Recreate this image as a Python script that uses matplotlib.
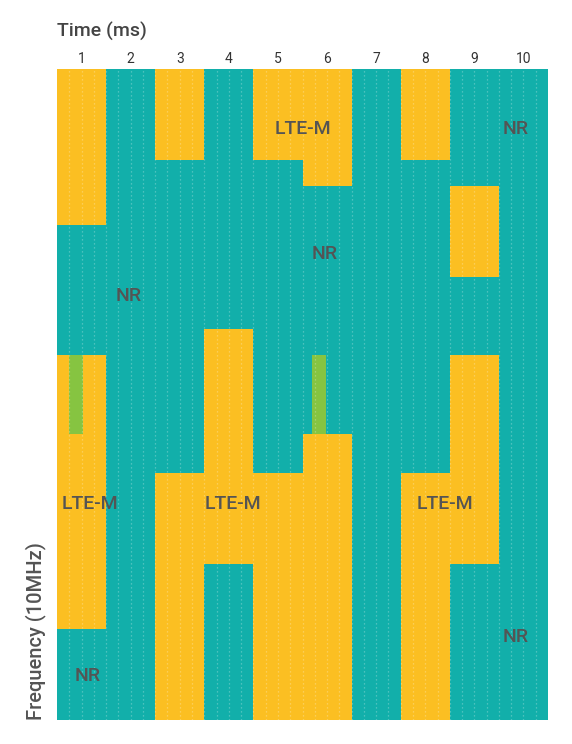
import matplotlib
matplotlib.use("Agg")
import matplotlib.pyplot as plt

plt.rcParams['font.family'] = ['Roboto', 'DejaVu Sans']

# ---- data ----
time_ms = [1, 2, 3, 4, 5, 6, 7, 8, 9, 10]
freq_max = 50  # frequency units (bottom = 0)

# LTE-M occupied blocks per time slot: (bottom, top) in frequency units
lte_m_blocks = [
    [(38, 50), (7, 28)],     # 1
    [],                      # 2
    [(43, 50), (0, 19)],     # 3
    [(12, 30)],              # 4
    [(43, 50), (0, 19)],     # 5
    [(41, 50), (0, 22)],     # 6
    [],                      # 7
    [(43, 50), (0, 19)],     # 8
    [(34, 41), (12, 28)],    # 9
    [],                      # 10
]

# green (control) blocks: slot, x-offset start, x-offset end within slot, bottom, top
green_slots = [1, 6]
green_x0 = [0.25, 0.20]
green_x1 = [0.52, 0.48]
green_bottom = [22, 22]
green_top = [28, 28]

# region labels: text, x (slot units, 0..10), y (freq units)
label_texts = ["LTE-M", "NR", "NR", "NR", "LTE-M", "LTE-M", "LTE-M", "NR", "NR"]
label_x = [5.0, 9.35, 5.46, 1.45, 0.67, 3.58, 7.9, 9.35, 0.63]
label_y = [45.4, 45.4, 35.8, 32.6, 16.6, 16.6, 16.6, 6.4, 3.4]

TEAL = "#12AFAA"
YELLOW = "#FBBF22"
GREEN = "#86C441"
TEXT = "#545454"

fig = plt.figure(figsize=(5.72, 7.44), dpi=100)
ax = fig.add_axes([57 / 572, 24 / 744, 491 / 572, 651 / 744])
ax.set_facecolor(TEAL)

for i, t in enumerate(time_ms):
    for (b, top) in lte_m_blocks[i]:
        ax.bar(t - 0.5, top - b, bottom=b, width=1.0, align='edge',
               color=YELLOW, edgecolor='none', zorder=2)

for s, x0, x1, b, top in zip(green_slots, green_x0, green_x1, green_bottom, green_top):
    ax.bar(s - 0.5 + x0, top - b, bottom=b, width=x1 - x0, align='edge',
           color=GREEN, edgecolor='none', zorder=3)

# dotted sub-grid
for i in range(1, 4 * len(time_ms)):
    x = 0.5 + i * 0.25
    ax.axvline(x, color='white', alpha=0.33, lw=0.9, ls=(0, (1, 2.2)), zorder=4)

for txt, x, y in zip(label_texts, label_x, label_y):
    ax.text(x + 0.5, y, txt, ha='center', va='center', fontsize=14,
            fontweight='medium', color=TEXT, zorder=5)

ax.set_xlim(0.5, 10.5)
ax.set_ylim(0, freq_max)
ax.xaxis.tick_top()
ax.set_xticks(time_ms)
ax.set_xticklabels([str(t) for t in time_ms], fontsize=10, color="#333333")
ax.tick_params(axis='x', length=0, pad=2)
ax.set_yticks([])
for sp in ax.spines.values():
    sp.set_visible(False)

ax.set_ylabel("Frequency (10MHz)", loc='bottom', fontsize=14.5, color=TEXT,
              fontweight='medium', labelpad=8)
fig.text(57 / 572, 1 - 31 / 744, "Time (ms)", ha='left', va='center',
         fontsize=14, fontweight='medium', color="#444444")

fig.savefig("out.png", dpi=100, facecolor='white')
